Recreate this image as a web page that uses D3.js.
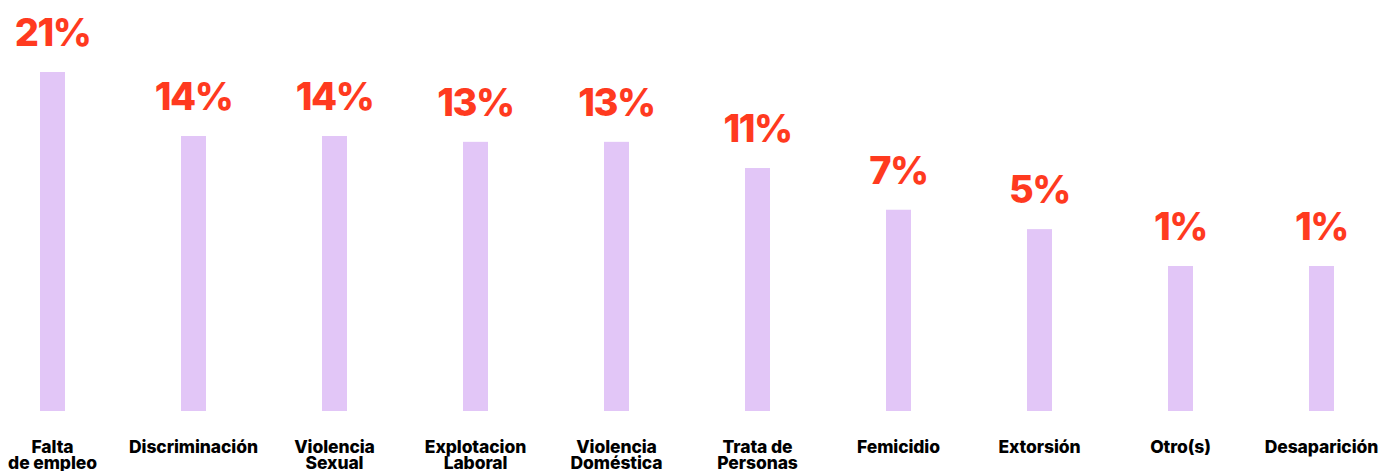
<!DOCTYPE html>
<html>
<head>
<meta charset="utf-8">
<script src="https://cdn.jsdelivr.net/npm/d3@7"></script>
<style>
  html, body { margin: 0; padding: 0; background: #ffffff; overflow: hidden; }
  svg { display: block; }
</style>
</head>
<body>
<svg id="chart" width="1391" height="471"></svg>
<script>
// Categories (line breaks marked with "|")
const categories = ["Falta|de empleo", "Discriminación", "Violencia|Sexual", "Explotacion|Laboral",
  "Violencia|Doméstica", "Trata de|Personas", "Femicidio", "Extorsión", "Otro(s)", "Desaparición"];
// Bar values as drawn (percent)
const values = [21.0, 14.4, 14.4, 13.8, 13.8, 11.1, 6.8, 4.8, 1.0, 1.0];
// Displayed labels
const pctLabels = ["21%", "14%", "14%", "13%", "13%", "11%", "7%", "5%", "1%", "1%"];

const W = 1391, H = 471;
const svg = d3.select("#chart");

const x = d3.scalePoint().domain(categories).range([52.5, 1321.5]);
const y = d3.scaleLinear().domain([-13.95, 21]).range([411, 72]);
const barW = 25;

const data = categories.map((c, i) => ({ c, v: values[i], label: pctLabels[i] }));

svg.selectAll("rect.bar").data(data).join("rect")
  .attr("class", "bar")
  .attr("x", d => x(d.c) - barW / 2)
  .attr("width", barW)
  .attr("y", d => y(d.v))
  .attr("height", d => y(-13.95) - y(d.v))
  .attr("fill", "#E2C6F7");

svg.selectAll("text.pct").data(data).join("text")
  .attr("class", "pct")
  .attr("x", d => x(d.c))
  .attr("y", d => y(d.v) - 26)
  .attr("text-anchor", "middle")
  .attr("font-family", "Inter, 'Noto Sans', sans-serif")
  .attr("font-weight", 800)
  .attr("font-size", 38)
  .attr("letter-spacing", "-1.5px")
  .attr("fill", "#FF3A1F")
  .text(d => d.label);

const cat = svg.selectAll("text.cat").data(data).join("text")
  .attr("class", "cat")
  .attr("text-anchor", "middle")
  .attr("font-family", "Inter, 'Noto Sans', sans-serif")
  .attr("font-weight", 800)
  .attr("font-size", 17.5)
  .attr("letter-spacing", "-0.1px")
  .attr("fill", "#000000");

cat.each(function(d) {
  const lines = d.c.split("|");
  d3.select(this).selectAll("tspan").data(lines).join("tspan")
    .attr("x", x(d.c))
    .attr("y", (l, i) => 453 + i * 16)
    .text(l => l);
});
</script>
</body>
</html>
